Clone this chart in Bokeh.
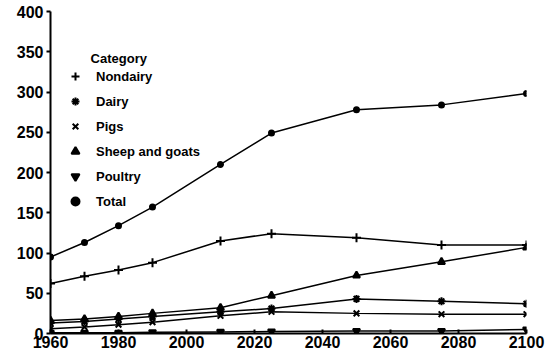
from bokeh.plotting import figure
from bokeh.models import Legend, LegendItem, Range1d, FixedTicker, Label
from bokeh.embed import file_html
from bokeh.resources import INLINE

years = [1960, 1970, 1980, 1990, 2010, 2025, 2050, 2075, 2100]
nondairy = [62, 71, 79, 88, 115, 124, 119, 110, 110]
dairy = [13, 15, 18, 21, 27, 31, 43, 40, 37]
pigs = [6, 8, 11, 14, 22, 27, 25, 24, 24]
sheep_goats = [16, 18, 21, 25, 32, 47, 72, 89, 107]
poultry = [1, 1, 1, 1.5, 2, 2.5, 3, 3, 5]
total = [95, 113, 134, 157, 210, 249, 278, 284, 298]
legend_title = "Category"

series = [
    ("Nondairy", nondairy, "cross", 9),
    ("Dairy", dairy, "asterisk", 8),
    ("Pigs", pigs, "x", 8),
    ("Sheep and goats", sheep_goats, "triangle", 7),
    ("Poultry", poultry, "inverted_triangle", 7),
    ("Total", total, "circle", 5),
]

p = figure(width=550, height=358, output_backend="svg", toolbar_location=None,
           x_range=Range1d(1960, 2100), y_range=Range1d(0, 400),
           min_border_left=50, min_border_right=24, min_border_top=11, min_border_bottom=25)
p.outline_line_color = None
p.grid.grid_line_color = None
p.background_fill_color = "white"

for ax in (p.xaxis[0], p.yaxis[0]):
    ax.axis_line_color = "black"
    ax.axis_line_width = 2
    ax.major_tick_line_color = "black"
    ax.major_tick_line_width = 2
    ax.minor_tick_line_color = None
    ax.major_label_text_font = "Liberation Sans"
    ax.major_label_text_font_style = "bold"
    ax.major_label_text_font_size = "16px"
    ax.major_label_text_color = "black"

p.xaxis.ticker = FixedTicker(ticks=list(range(1960, 2101, 20)))
p.yaxis.ticker = FixedTicker(ticks=list(range(0, 401, 50)))
p.xaxis.major_tick_in = 4
p.xaxis.major_tick_out = 0
p.xaxis.major_label_standoff = 2
p.yaxis.major_tick_in = 0
p.yaxis.major_tick_out = 4
p.yaxis.major_label_standoff = 3

items = []
for name, vals, marker, size in series:
    p.line(years, vals, line_color="black", line_width=1.5)
    r = p.scatter(years, vals, marker=marker, size=size, line_color="black",
                  fill_color="black", line_width=2)
    items.append(LegendItem(label=name, renderers=[r]))

legend = Legend(items=items, location=(15, 122),
                border_line_color=None, background_fill_alpha=0,
                label_text_font="Liberation Sans", label_text_font_style="bold",
                label_text_font_size="13px", label_text_color="black",
                glyph_height=20, glyph_width=20, spacing=5, label_standoff=11,
                padding=0, margin=0, label_height=20)
p.add_layout(legend, "center")

title_lbl = Label(x=1971.8, y=341.5, text=legend_title, text_baseline="middle",
                  text_font="Liberation Sans", text_font_style="bold",
                  text_font_size="13px", text_color="black")
p.add_layout(title_lbl)

open("out.html", "w").write(file_html(p, INLINE))
